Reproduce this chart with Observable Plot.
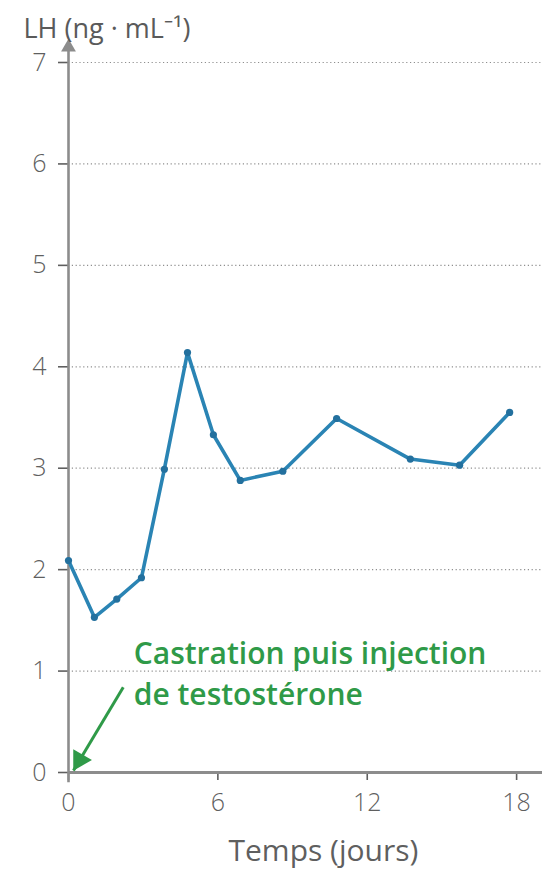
<!DOCTYPE html>
<html>
<head>
<meta charset="utf-8">
<script src="https://cdn.jsdelivr.net/npm/d3@7"></script>
<script src="https://cdn.jsdelivr.net/npm/@observablehq/plot@0.6"></script>
<style>
  html, body { margin: 0; padding: 0; background: #ffffff; }
  #chart svg { display: block; }
</style>
</head>
<body>
<div id="chart"></div>
<script>
// Data
const days = [0, 1.04, 1.94, 2.93, 3.85, 4.78, 5.82, 6.9, 8.61, 10.77, 13.73, 15.71, 17.72];
const lhValues = [2.09, 1.53, 1.71, 1.92, 2.99, 4.14, 3.33, 2.88, 2.97, 3.49, 3.09, 3.03, 3.55];
const xTickValues = [0, 6, 12, 18];
const yTickValues = [0, 1, 2, 3, 4, 5, 6, 7];
const yAxisTitle = "LH (ng · mL⁻¹)";
const xAxisTitle = "Temps (jours)";
const noteText = "Castration puis injection\nde testostérone";
const noteFrom = {x: 2.2, y: 0.84};
const noteTo = {x: 0.2, y: 0.02};
const noteAt = {x: 2.62, y: 1.0};
const xTitleAt = {x: 10.24, y: 0};
const yArrowTop = 7.2;

const points = days.map((d, i) => ({day: d, lh: lhValues[i]}));

const lineColor = "#2a84b4";
const green = "#2f9a48";
const axisGray = "#8c8c8c";

const chart = Plot.plot({
  width: 542,
  height: 878,
  marginLeft: 68,
  marginRight: 0,
  marginTop: 62,
  marginBottom: 106,
  x: {domain: [0, 19.04]},
  y: {domain: [0, 7]},
  style: {fontFamily: "'Open Sans', 'Noto Sans', sans-serif", background: "#ffffff", color: "#5f5f5f", overflow: "visible"},
  marks: [
    Plot.ruleY(yTickValues.filter(d => d > 0), {stroke: "#8f8f8f", strokeWidth: 1.2, strokeDasharray: "1.2,2.6"}),
    Plot.axisY({ticks: yTickValues, tickFormat: d => String(d), tickSize: 10, tickPadding: 12, fontSize: 25, fontWeight: 300, label: null, strokeWidth: 1.6}),
    Plot.axisX({ticks: xTickValues, tickFormat: d => String(d), tickSize: 8, tickPadding: 13, fontSize: 25, fontWeight: 300, label: null, strokeWidth: 1.6}),
    Plot.ruleY([0], {stroke: axisGray, strokeWidth: 3}),
    Plot.ruleX([0], {y1: -0.1, y2: yArrowTop - 0.08, stroke: axisGray, strokeWidth: 2.6}),
    Plot.dot([0], {x: d => d, y: () => yArrowTop, symbol: "triangle", r: 5.5, fill: axisGray, dy: 5}),
    Plot.line(points, {x: "day", y: "lh", stroke: lineColor, strokeWidth: 3.6, strokeLinejoin: "round"}),
    Plot.dot(points, {x: "day", y: "lh", r: 3.6, fill: "#23709e"}),
    Plot.link([{x1: noteFrom.x, y1: noteFrom.y, x2: noteTo.x, y2: noteTo.y}], {x1: "x1", y1: "y1", x2: "x2", y2: "y2", stroke: green, strokeWidth: 3}),
    Plot.dot([noteTo], {x: "x", y: "y", symbol: "triangle", r: 8, rotate: 210, fill: green, dx: 6, dy: -10.5}),
    Plot.text([noteText], {x: () => noteAt.x, y: () => noteAt.y, text: d => d, textAnchor: "start", lineAnchor: "middle", lineHeight: 1.36, fontSize: 30, fontWeight: 600, fill: green}),
    Plot.text([xAxisTitle], {x: () => xTitleAt.x, y: () => xTitleAt.y, text: d => d, dy: 79, fontSize: 30, fill: "#5f5f5f"}),
    Plot.text([yAxisTitle], {frameAnchor: "top-left", text: d => d, dx: -45, dy: -44, textAnchor: "start", fontSize: 27, fill: "#5a5a5a"})
  ]
});

document.getElementById("chart").appendChild(chart);
</script>
</body>
</html>
